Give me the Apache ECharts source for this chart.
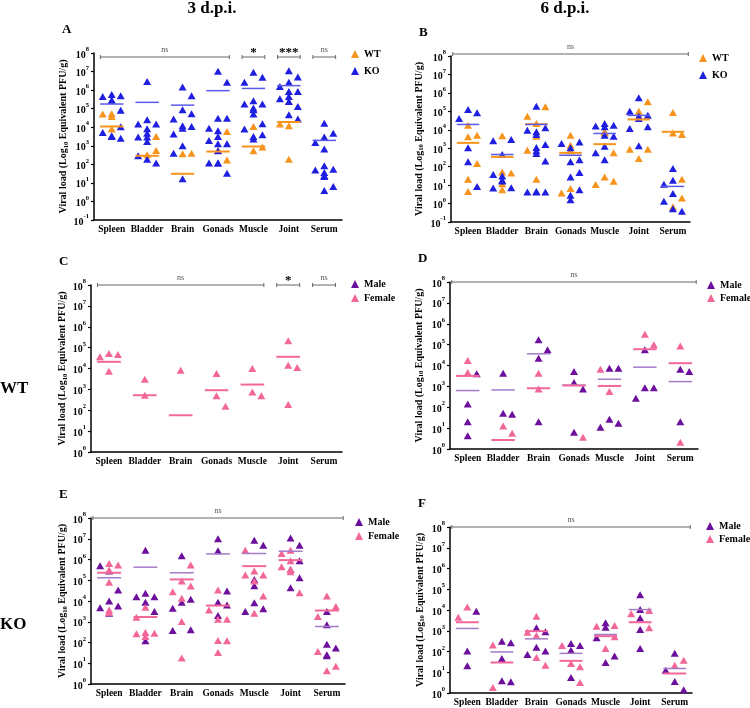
<!DOCTYPE html>
<html>
<head>
<meta charset="utf-8">
<script src="https://cdn.jsdelivr.net/npm/echarts@6/dist/echarts.min.js"></script>
<style>
  html, body { margin: 0; padding: 0; background: #fff; }
  #chartmain { width: 750px; height: 708px; }
</style>
</head>
<body>
<div id="chartmain"></div>
<script>
// organs on the x axis
var organs = ['Spleen', 'Bladder', 'Brain', 'Gonads', 'Muscle', 'Joint', 'Serum'];

// all values are log10 PFU/g, one inner array per organ
// A: 3 d.p.i., WT vs KO
var aKO = [
  [5.70, 5.66, 5.77, 5.45, 5.45, 4.91, 4.03, 3.72, 3.54, 3.50, 3.41],
  [6.47, 4.40, 4.17, 4.17, 3.92, 3.68, 3.47, 3.47, 3.23, 2.46, 2.28, 2.07],
  [6.17, 5.70, 4.94, 4.73, 4.44, 4.08, 4.04, 3.95, 3.63, 3.00, 2.60, 1.22],
  [7.01, 6.42, 4.49, 4.49, 3.95, 3.81, 3.50, 3.29, 3.11, 3.11, 2.73, 2.07, 2.07, 2.07, 1.52],
  [6.96, 6.69, 6.42, 5.43, 5.25, 5.25, 5.03, 4.94, 4.71, 4.19, 3.90, 3.59, 3.50, 3.36],
  [7.05, 6.71, 6.42, 6.20, 5.93, 5.93, 5.66, 5.54, 5.39, 5.12, 4.67, 4.44],
  [4.22, 3.68, 3.47, 3.18, 2.82, 1.92, 1.74, 1.70, 1.56, 1.40, 1.34, 0.81, 0.59]
];
var aWT = [
  [4.73, 4.71, 4.58, 3.90],
  [3.50, 2.75, 2.51],
  [2.60, 2.57],
  [3.77, 2.75, 2.24],
  [4.04, 2.93, 2.73],
  [5.39, 4.17, 4.08, 2.28],
  []
];
var aKOMed = [5.25, 5.34, 5.19, 5.97, 6.09, 6.24, 3.29];
var aWTMed = [4.04, 2.46, 1.49, 2.69, 2.96, 4.28, null];
var aSig = [['ns', 0, 3], ['*', 4, 4], ['***', 5, 5], ['ns', 6, 6]];

// B: 6 d.p.i., WT vs KO
var bKO = [
  [5.10, 4.92, 4.61, 3.02, 2.26, 0.93],
  [3.47, 3.40, 2.66, 1.57, 1.50, 1.26, 1.22, 0.86, 0.84],
  [5.28, 4.11, 3.98, 3.89, 3.74, 3.20, 3.04, 2.86, 2.71, 2.31, 0.66, 0.63, 0.63, 0.63],
  [3.34, 3.25, 3.02, 2.38, 2.26, 1.68, 1.44, 0.75, 0.45, 0.21],
  [4.34, 4.25, 4.20, 4.16, 3.71, 3.65, 3.11, 2.75, 2.38],
  [5.74, 5.01, 4.79, 4.74, 4.61, 4.16, 4.07, 3.13],
  [1.90, 1.26, 1.04, 0.54, 0.12, -0.28, -0.42]
];
var bWT = [
  [4.25, 3.71, 3.62, 2.17, 1.32, 0.66],
  [3.67, 1.71, 1.66, 1.08, 0.75],
  [5.25, 4.74, 4.34, 3.65, 2.89, 1.32],
  [3.71, 3.16, 2.86, 0.81, 0.57],
  [3.89, 3.89, 3.83, 2.75, 1.44, 1.21, 1.03],
  [5.52, 5.01, 4.74, 2.95, 2.95, 2.44],
  [4.94, 3.83, 3.74, 1.32, 0.30, -0.19]
];
var bKOMed = [4.29, 2.66, 4.29, 2.62, 3.80, 4.78, 0.93];
var bWTMed = [3.29, 2.53, 4.30, 2.75, 3.22, 4.56, 3.89];
var bSig = [['ns', 0, 6]];

// C: WT by sex
var cMale = [[], [], [], [], [], [], []];
var cFemale = [
  [4.72, 4.67, 4.56, 3.87],
  [3.49, 2.72],
  [3.92],
  [3.76, 2.69, 2.19],
  [4.00, 2.88, 2.69],
  [5.33, 4.16, 4.05, 2.27],
  []
];
var cMaleMed = [null, null, null, null, null, null, null];
var cFemaleMed = [4.32, 2.72, 1.76, 2.96, 3.23, 4.56, null];
var cSig = [['ns', 0, 4], ['*', 5, 5], ['ns', 6, 6]];

// D: 6 d.p.i. WT by sex
var dMale = [
  [3.60, 2.16, 1.31, 0.64],
  [3.63, 1.71, 1.66],
  [5.23, 4.75, 4.35, 1.31],
  [3.71, 3.18, 2.88, 0.80],
  [3.87, 3.87, 1.42, 1.23, 1.04],
  [4.75, 2.94, 2.94, 2.43],
  [3.82, 3.71, 1.31]
];
var dFemale = [
  [4.24, 3.66],
  [1.10, 0.75],
  [3.63, 2.88],
  [0.56],
  [3.82, 2.75],
  [5.50, 4.99],
  [4.94, 0.32]
];
var dMaleMed = [2.80, 2.83, 4.56, 3.06, 3.34, 3.92, 3.23];
var dFemaleMed = [3.50, 0.43, 2.91, 3.04, 3.02, 4.78, 4.11];
var dSig = [['ns', 0, 6]];

// E: KO by sex, 3 d.p.i.
var eMale = [
  [5.70, 5.44, 4.53, 4.00, 3.76, 3.68, 3.41],
  [6.45, 4.37, 4.21, 4.21, 3.94, 3.49, 2.08],
  [6.18, 4.08, 3.94, 3.65, 2.61, 2.58],
  [7.00, 6.42, 4.48, 3.94, 3.81, 3.30],
  [6.93, 6.69, 5.04, 4.74, 3.92, 3.63, 3.49],
  [7.04, 6.69, 5.94, 5.52, 5.12, 4.64],
  [3.49, 2.85, 1.92, 1.73, 1.41, 1.36]
];
var eFemale = [
  [5.81, 5.73, 5.49, 4.90, 3.57, 3.44],
  [3.70, 3.22, 2.48, 2.45, 2.42, 2.29],
  [5.73, 4.96, 4.72, 4.45, 4.13, 3.01, 1.25],
  [4.53, 3.57, 3.12, 3.12, 2.10, 2.08, 1.52],
  [6.45, 5.44, 5.25, 5.25, 4.96, 4.24, 3.41],
  [6.45, 6.29, 5.94, 5.65, 5.52, 5.41, 4.40],
  [4.24, 3.73, 3.25, 1.57, 0.85, 0.64]
];
var eMaleMed = [5.12, 5.63, 5.36, 6.27, 6.29, 6.40, 2.77];
var eFemaleMed = [5.36, 3.23, 5.04, 3.78, 5.68, 5.97, 3.54];
var eSig = [['ns', 0, 6]];

// F: KO by sex, 6 d.p.i.
var fMale = [
  [3.94, 2.02, 1.31],
  [2.50, 2.42, 1.66, 0.59, 0.54],
  [3.14, 2.95, 2.21, 2.02, 1.86],
  [2.39, 2.29, 2.06, 0.75],
  [3.38, 3.17, 2.66, 1.78, 1.47],
  [4.73, 4.02, 3.62, 3.06, 2.15],
  [1.91, 1.10, 0.56, 0.16]
];
var fFemale = [
  [4.14, 3.65],
  [2.31, 0.27],
  [3.70, 2.93, 2.77, 1.71, 1.34],
  [2.29, 1.42, 1.26, 0.51],
  [3.25, 3.22, 2.71, 2.15],
  [3.98, 3.82, 3.14],
  [1.58, 1.34]
];
var fMaleMed = [3.11, 1.98, 2.61, 1.91, 2.82, 4.02, 1.18];
var fFemaleMed = [3.41, 1.47, 2.98, 1.55, 2.74, 3.41, 0.94];
var fSig = [['ns', 0, 6]];

var FONT = '"Liberation Serif", "Times New Roman", serif';
var ORANGE = '#F7941D', BLUE = '#1F1FE0', BLUE_LINE = '#5B5BEB';
var PURPLE = '#6B0F9C', PURPLE_LINE = '#A47BC7', PINK = '#F2679A';

function wtko(wt, ko, wtMed, koMed) {
  return [
    { name: 'WT', vals: wt, med: wtMed, color: ORANGE, line: ORANGE, lw: 2 },
    { name: 'KO', vals: ko, med: koMed, color: BLUE, line: BLUE_LINE, lw: 1.5 }
  ];
}
function sex(m, f, mMed, fMed) {
  return [
    { name: 'Male', vals: m, med: mMed, color: PURPLE, line: PURPLE_LINE, lw: 1.5 },
    { name: 'Female', vals: f, med: fMed, color: PINK, line: PINK, lw: 2 }
  ];
}

var panels = [
  { key: 'A', grid: { left: 94, top: 53, width: 248, height: 167 }, min: 0.1, nameGap: 22,
    groups: wtko(aWT, aKO, aWTMed, aKOMed), sig: aSig, sigOff: 4, leg: { left: 351, top: 48, gap: 5 } },
  { key: 'B', grid: { left: 451, top: 56, width: 239, height: 166 }, min: 0.1, nameGap: 26,
    groups: wtko(bWT, bKO, bWTMed, bKOMed), sig: bSig, sigOff: -2, leg: { left: 699, top: 52, gap: 5 } },
  { key: 'C', grid: { left: 91, top: 285, width: 251, height: 167 }, min: 1, nameGap: 19,
    groups: sex(cMale, cFemale, cMaleMed, cFemaleMed), sig: cSig, sigOff: 0, leg: { left: 351, top: 278, gap: 2 } },
  { key: 'D', grid: { left: 450, top: 282, width: 248, height: 167 }, min: 1, nameGap: 25,
    groups: sex(dMale, dFemale, dMaleMed, dFemaleMed), sig: dSig, sigOff: 0, leg: { left: 707, top: 279, gap: 1 } },
  { key: 'E', grid: { left: 91, top: 518, width: 254, height: 166 }, min: 1, nameGap: 19,
    groups: sex(eMale, eFemale, eMaleMed, eFemaleMed), sig: eSig, sigOff: 0, leg: { left: 355, top: 516, gap: 2 } },
  { key: 'F', grid: { left: 450, top: 527, width: 242, height: 167 }, min: 1, nameGap: 24,
    groups: sex(fMale, fFemale, fMaleMed, fFemaleMed), sig: fSig, sigOff: 0, leg: { left: 706, top: 520, gap: 1 } }
];

// spread points of one organ column sideways so triangles don't sit on top of each other
function swarm(groups, col, pxCat, pxDec) {
  var W = 9 / pxCat, H = 11 / pxDec;
  var pts = [];
  groups.forEach(function (g, gi) {
    g.vals[col].forEach(function (v, i) { pts.push({ g: gi, i: i, v: v }); });
  });
  pts.sort(function (a, b) { return b.v - a.v; });
  var placed = [];
  var offs = groups.map(function (g) { return g.vals[col].map(function () { return 0; }); });
  pts.forEach(function (p) {
    var best = 0;
    for (var k = 0; k < 10; k++) {
      var cand = k === 0 ? 0 : (k % 2 ? 1 : -1) * Math.ceil(k / 2) * W;
      if (Math.abs(cand) > 0.46) continue;
      var hit = placed.some(function (q) {
        return Math.abs(q.x - cand) < W * 0.98 && Math.abs(q.y - p.v) < H;
      });
      if (!hit) { best = cand; break; }
    }
    placed.push({ x: best, y: p.v });
    offs[p.g][p.i] = best;
  });
  return offs;
}

var option = {
  animation: false,
  backgroundColor: '#fff',
  title: [],
  grid: [],
  xAxis: [],
  yAxis: [],
  legend: [],
  series: []
};

// headings
[['3 d.p.i.', 212, 0, 17, 'center'], ['6 d.p.i.', 565, 0, 17, 'center'],
 ['WT', 0, 380, 17, 'left'], ['KO', 0, 616, 17, 'left']].forEach(function (t) {
  option.title.push({ text: t[0], left: t[1], top: t[2], padding: 0, textAlign: t[4],
    textStyle: { fontFamily: FONT, fontWeight: 'bold', fontSize: t[3], color: '#000' } });
});

panels.forEach(function (p, k) {
  option.title.push({ text: p.key, left: p.grid.left - 32, top: p.grid.top - 30, padding: 0,
    textStyle: { fontFamily: FONT, fontWeight: 'bold', fontSize: 13, color: '#000' } });

  option.grid.push(p.grid);
  option.xAxis.push({
    type: 'category', gridIndex: k, data: organs,
    axisLine: { onZero: false, lineStyle: { color: '#000', width: 1.5 } },
    axisTick: { show: false },
    axisLabel: { interval: 0, margin: 5, color: '#000', fontFamily: FONT, fontWeight: 'bold', fontSize: 9.5 }
  });
  option.xAxis.push({ type: 'value', gridIndex: k, min: -0.5, max: 6.5, show: false });
  option.yAxis.push({
    type: 'log', logBase: 10, gridIndex: k, min: p.min, max: 1e8,
    name: '{n|Viral load (Log}{s|10}{n| Equivalent PFU/g)}',
    nameLocation: 'middle', nameGap: p.nameGap, nameRotate: 90,
    nameTextStyle: {
      rich: {
        n: { fontFamily: FONT, fontWeight: 'bold', fontSize: 10, lineHeight: 12, color: '#000' },
        s: { fontFamily: FONT, fontWeight: 'bold', fontSize: 6.5, lineHeight: 7, verticalAlign: 'bottom', color: '#000' }
      }
    },
    axisLine: { show: true, onZero: false, lineStyle: { color: '#000', width: 1.5 } },
    axisTick: { show: true, length: 3, lineStyle: { color: '#000', width: 1.2 } },
    splitLine: { show: false },
    axisLabel: {
      margin: 5,
      formatter: function (v) { return '{b|10}{s|' + Math.round(Math.log10(v)) + '}'; },
      rich: {
        b: { fontFamily: FONT, fontWeight: 'bold', fontSize: 10, lineHeight: 14, verticalAlign: 'bottom', color: '#000' },
        s: { fontFamily: FONT, fontWeight: 'bold', fontSize: 6.5, lineHeight: 8, verticalAlign: 'top', color: '#000' }
      }
    }
  });

  option.legend.push({
    orient: 'vertical', left: p.leg.left, top: p.leg.top, padding: 0, itemGap: p.leg.gap,
    data: p.groups.map(function (g) { return g.name; }),
    icon: 'triangle', itemWidth: 8, itemHeight: 8, selectedMode: false,
    textStyle: { fontFamily: FONT, fontWeight: 'bold', fontSize: 10, color: '#000', lineHeight: 12 }
  });

  var pxCat = p.grid.width / 7;
  var pxDec = p.grid.height / (8 - Math.log10(p.min));
  var offsets = organs.map(function (o, c) { return swarm(p.groups, c, pxCat, pxDec); });

  p.groups.forEach(function (g, gi) {
    var pts = [];
    g.vals.forEach(function (vals, c) {
      vals.forEach(function (v, i) { pts.push([c + offsets[c][gi][i], Math.pow(10, v)]); });
    });
    option.series.push({
      name: g.name, type: 'scatter', xAxisIndex: 2 * k + 1, yAxisIndex: k,
      symbol: 'triangle', symbolSize: [8, 7], itemStyle: { color: g.color, opacity: 1 },
      data: pts, z: 2
    });
  });

  p.groups.forEach(function (g) {
    var meds = [];
    g.med.forEach(function (m, c) { if (m !== null) meds.push([c, Math.pow(10, m)]); });
    option.series.push({
      type: 'custom', xAxisIndex: 2 * k + 1, yAxisIndex: k, z: 3, silent: true,
      data: meds,
      renderItem: function (params, api) {
        var x = api.value(0), y = api.value(1);
        var a = api.coord([x - 0.33, y]), b = api.coord([x + 0.33, y]);
        return { type: 'line', shape: { x1: a[0], y1: a[1], x2: b[0], y2: b[1] },
          style: { stroke: g.line, lineWidth: g.lw } };
      }
    });
  });

  // significance brackets along the top
  var sig = p.sig;
  option.series.push({
    type: 'custom', xAxisIndex: 2 * k + 1, yAxisIndex: k, z: 4, silent: true,
    data: sig.map(function (s) { return [s[1], 1e8]; }),
    renderItem: function (params, api) {
      var s = sig[params.dataIndex];
      var pad = (s[2] - s[1] >= 6) ? 0.45 : 0.32;
      var a = api.coord([s[1] - pad, 1e8]), b = api.coord([s[2] + pad, 1e8]);
      var y = a[1] + p.sigOff;
      var ns = s[0] === 'ns';
      return { type: 'group', children: [
        { type: 'line', shape: { x1: a[0], y1: y, x2: b[0], y2: y }, style: { stroke: '#666', lineWidth: 1 } },
        { type: 'line', shape: { x1: a[0], y1: y - 2, x2: a[0], y2: y + 2 }, style: { stroke: '#666', lineWidth: 1 } },
        { type: 'line', shape: { x1: b[0], y1: y - 2, x2: b[0], y2: y + 2 }, style: { stroke: '#666', lineWidth: 1 } },
        { type: 'text', style: { text: s[0], x: (a[0] + b[0]) / 2, y: ns ? y - 3 : y + 2,
          align: 'center', verticalAlign: 'bottom',
          font: ns ? '8px ' + FONT : 'bold 13px ' + FONT, fill: ns ? '#555' : '#000' } }
      ] };
    }
  });
});

var myChart = echarts.init(document.getElementById('chartmain'));
myChart.setOption(option);
</script>
</body>
</html>
